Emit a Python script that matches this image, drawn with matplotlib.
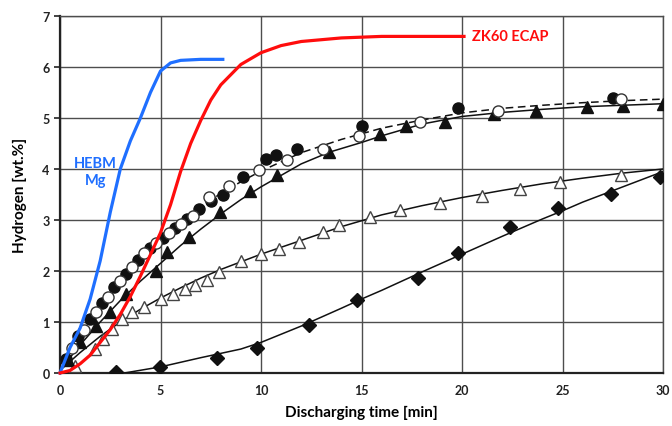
import matplotlib
matplotlib.use("Agg")
import matplotlib.pyplot as plt

plt.rcParams["font.family"] = ["Lato", "DejaVu Sans"]

# HEBM Mg (blue) and ZK60 ECAP (red) curves
hebm_t = [0, 0.5, 1, 1.5, 2, 2.5, 3, 3.5, 4, 4.5, 5, 5.5, 6, 7, 8.1]
hebm_h = [0, 0.5, 0.88, 1.45, 2.2, 3.15, 4.0, 4.55, 5.0, 5.5, 5.92, 6.08, 6.13, 6.15, 6.15]

zk60_t = [0, 0.5, 1, 1.5, 2, 2.5, 3, 3.5, 4, 4.5, 5, 5.5, 6, 6.5, 7, 7.5, 8, 9, 10, 11, 12, 14, 16, 20.1]
zk60_h = [0, 0.05, 0.18, 0.35, 0.6, 0.85, 1.15, 1.5, 1.9, 2.32, 2.75, 3.3, 3.95, 4.5, 4.95, 5.35, 5.65, 6.05, 6.28, 6.42, 6.5, 6.57, 6.6, 6.6]

# filled / open circles with dashed fit
circ_f_t = [0.3, 0.9, 1.5, 2.1, 2.7, 3.3, 3.9, 4.5, 5.1, 5.7, 6.3, 6.9, 7.5, 8.1, 9.1, 10.25, 10.75, 11.8, 15.0, 19.8, 27.5]
circ_f_h = [0.28, 0.72, 1.05, 1.38, 1.68, 1.95, 2.22, 2.45, 2.65, 2.85, 3.02, 3.22, 3.38, 3.5, 3.84, 4.2, 4.27, 4.39, 4.84, 5.2, 5.4]
circ_o_t = [0.6, 1.2, 1.8, 2.4, 3.0, 3.6, 4.2, 4.8, 5.4, 6.0, 6.6, 7.4, 8.4, 9.9, 11.3, 13.1, 14.9, 17.9, 21.8, 27.9]
circ_o_h = [0.5, 0.85, 1.2, 1.5, 1.8, 2.08, 2.35, 2.55, 2.75, 2.92, 3.08, 3.45, 3.67, 3.98, 4.17, 4.39, 4.65, 4.92, 5.14, 5.37]
circ_fit_t = [0, 1, 2, 3, 4, 5, 6, 7, 8, 9, 10, 12, 14, 16, 18, 20, 22, 24, 26, 28, 30]
circ_fit_h = [0.15, 0.8, 1.32, 1.8, 2.25, 2.62, 2.96, 3.26, 3.52, 3.75, 3.96, 4.32, 4.58, 4.8, 4.96, 5.1, 5.19, 5.25, 5.3, 5.34, 5.37]

# filled triangles
tri_f_t = [0.4, 1.0, 1.8, 2.5, 3.3, 4.8, 5.3, 6.4, 7.96, 9.45, 10.8, 13.4, 15.9, 17.2, 19.15, 21.6, 23.7, 26.2, 28.0, 30.0]
tri_f_h = [0.25, 0.6, 0.92, 1.19, 1.55, 2.0, 2.37, 2.66, 3.15, 3.57, 3.88, 4.33, 4.69, 4.84, 4.93, 5.08, 5.14, 5.21, 5.24, 5.27]
tri_fit_t = [0, 1, 2, 3, 4, 5, 6, 7, 8, 9, 10, 12, 13.4, 15, 16, 18, 20, 22, 24, 26, 28, 30]
tri_fit_h = [0.05, 0.55, 1.0, 1.42, 1.8, 2.15, 2.5, 2.82, 3.12, 3.4, 3.65, 4.1, 4.33, 4.52, 4.65, 4.88, 5.03, 5.11, 5.17, 5.22, 5.25, 5.28]

# open triangles
tri_o_t = [0.75, 1.74, 2.15, 2.6, 3.1, 3.6, 4.2, 5.0, 5.6, 6.2, 6.7, 7.3, 7.9, 9.0, 10.0, 10.9, 11.9, 13.1, 13.9, 15.4, 16.9, 18.9, 21.0, 22.9, 24.9, 27.9]
tri_o_h = [0.14, 0.47, 0.67, 0.86, 1.06, 1.19, 1.3, 1.45, 1.55, 1.65, 1.72, 1.82, 1.98, 2.2, 2.33, 2.43, 2.56, 2.76, 2.9, 3.05, 3.19, 3.34, 3.47, 3.61, 3.75, 3.88]
tri_o_fit_t = [0, 1, 2, 3, 4, 5, 6, 7, 8, 10, 12, 14, 16, 18, 20, 22, 24, 26, 28, 30]
tri_o_fit_h = [0.05, 0.4, 0.72, 1.0, 1.25, 1.47, 1.67, 1.86, 2.03, 2.33, 2.6, 2.87, 3.1, 3.28, 3.44, 3.58, 3.71, 3.82, 3.92, 4.0]

# diamonds
dia_t = [2.8, 4.97, 7.8, 9.8, 12.4, 14.8, 17.8, 19.8, 22.4, 24.8, 27.4, 29.85]
dia_h = [0.02, 0.12, 0.3, 0.5, 0.95, 1.43, 1.86, 2.35, 2.86, 3.24, 3.51, 3.85]
dia_fit_t = [3.2, 5, 7, 9, 10, 12, 14, 15, 16, 18, 20, 22, 24, 25, 26, 28, 30]
dia_fit_h = [0, 0.12, 0.3, 0.47, 0.6, 0.92, 1.27, 1.45, 1.62, 1.98, 2.33, 2.68, 3.02, 3.18, 3.35, 3.65, 3.95]

fig = plt.figure(figsize=(6.72, 4.27), dpi=100)
ax = fig.add_axes([60 / 672, 1 - 374 / 427, 603 / 672, 357 / 427])

ax.set_xlim(0, 30)
ax.set_ylim(0, 7)
ax.set_xticks(range(0, 31, 5))
ax.set_yticks(range(0, 8))
ax.grid(True, color="#4d4d4d", linewidth=1.0)
ax.set_axisbelow(True)
for side in ("top", "right"):
    ax.spines[side].set_color("#4d4d4d")
    ax.spines[side].set_linewidth(1.0)
for side in ("left", "bottom"):
    ax.spines[side].set_color("#222222")
    ax.spines[side].set_linewidth(1.6)
ax.tick_params(axis="y", length=4, width=1.2, labelsize=9, colors="#222222")
ax.tick_params(axis="x", length=0, labelsize=9, colors="#222222", pad=8)
for lab in ax.get_xticklabels() + ax.get_yticklabels():
    lab.set_fontweight("bold")

ax.set_xlabel("Discharging time [min]", fontsize=11, fontweight="bold", labelpad=6)
ax.set_ylabel("Hydrogen [wt.%]", fontsize=11, fontweight="bold", labelpad=11)

k = "#111111"
ax.plot(circ_fit_t, circ_fit_h, color=k, lw=1.1, ls=(0, (5, 3)), zorder=3)
ax.plot(tri_fit_t, tri_fit_h, color=k, lw=1.1, zorder=3)
ax.plot(tri_o_fit_t, tri_o_fit_h, color=k, lw=1.1, zorder=3)
ax.plot(dia_fit_t, dia_fit_h, color=k, lw=1.1, zorder=3)

ms = 8
ax.plot(tri_o_t, tri_o_h, ls="none", marker="^", ms=ms, mfc="white", mec="#444444", mew=1.0, zorder=4)
ax.plot(dia_t, dia_h, ls="none", marker="D", ms=7, mfc=k, mec=k, zorder=4)
ax.plot(tri_f_t, tri_f_h, ls="none", marker="^", ms=ms, mfc=k, mec=k, zorder=4)
ax.plot(circ_f_t, circ_f_h, ls="none", marker="o", ms=ms, mfc=k, mec=k, zorder=4)
ax.plot(circ_o_t, circ_o_h, ls="none", marker="o", ms=ms, mfc="white", mec="#333333", mew=1.0, zorder=5)

ax.plot(hebm_t, hebm_h, color="#1f6fff", lw=2.3, zorder=6, clip_on=False)
ax.plot(zk60_t, zk60_h, color="#ff0d0d", lw=2.3, zorder=6, clip_on=False)

ax.text(20.5, 6.6, "ZK60 ECAP", color="#ff0d0d", fontsize=10.5, fontweight="bold", va="center", ha="left")
ax.text(1.75, 3.95, "HEBM\nMg", color="#1f6fff", fontsize=10.5, fontweight="bold", va="center", ha="center",
        linespacing=1.2, zorder=7)

fig.savefig("out.png", dpi=100)
